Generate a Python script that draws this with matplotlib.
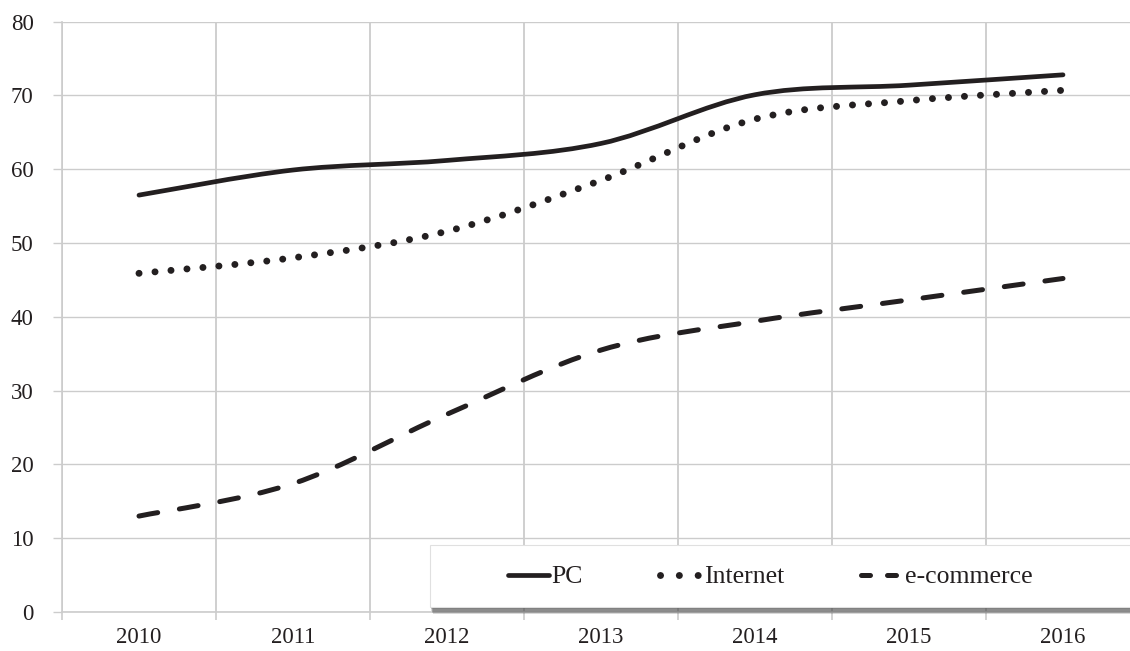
import matplotlib
matplotlib.use("Agg")
import matplotlib.pyplot as plt
import numpy as np
from matplotlib.path import Path
from matplotlib.patches import PathPatch, Rectangle
from matplotlib.lines import Line2D
import matplotlib.patheffects as pe

plt.rcParams['font.family'] = ['Liberation Serif', 'DejaVu Serif']

years = ['2010', '2011', '2012', '2013', '2014', '2015', '2016']
pc = [56.5, 59.9, 61.2, 63.5, 70.1, 71.4, 72.8]
internet = [45.9, 48.0, 51.6, 58.5, 66.8, 69.3, 70.7]
ecommerce = [13.0, 17.4, 26.8, 35.5, 39.4, 42.3, 45.2]

ink = '#231f20'
grid_c = '#cccccc'


def smooth_path(vals):
    # excel style smoothed line: bezier segments through the points
    p = np.column_stack([np.arange(len(vals)), vals]).astype(float)
    n = len(p)
    verts = [p[0]]
    codes = [Path.MOVETO]
    for i in range(n - 1):
        p0 = p[i - 1] if i > 0 else p[i]
        p3 = p[i + 2] if i + 2 < n else p[i + 1]
        c1 = p[i] + (p[i + 1] - p0) / 6
        c2 = p[i + 1] - (p3 - p[i]) / 6
        verts += [c1, c2, p[i + 1]]
        codes += [Path.CURVE4] * 3
    return Path(verts, codes)


W, H = 1130, 651
fig = plt.figure(figsize=(W / 100, H / 100), dpi=100)
ax = fig.add_axes([62 / W, (H - 612) / H, (1140 - 62) / W, (612 - 21.7) / H])

ax.set_xlim(-0.5, len(years) - 0.5)
ax.set_ylim(0, 80)

styles = [
    (pc, 3.4, '-'),
    (internet, 5.0, (0, (0.01, 2.3))),
    (ecommerce, 3.6, (0, (3.8, 4.4))),
]
for vals, lw, ls in styles:
    patch = PathPatch(smooth_path(vals), fill=False, edgecolor=ink, lw=lw,
                      linestyle=ls, capstyle='round', joinstyle='round', zorder=3)
    ax.add_patch(patch)

ax.set_xticks(range(len(years)))
ax.set_xticklabels(years)
ax.set_xticks(np.arange(-0.5, len(years), 1), minor=True)
ax.set_yticks(range(0, 81, 10))

ax.tick_params(axis='x', which='major', length=0, pad=11, labelsize=16.5, labelcolor=ink)
ax.tick_params(axis='x', which='minor', length=5.5, width=1.2, color=grid_c)
ax.tick_params(axis='y', length=6.5, width=1, color=grid_c, pad=14, labelsize=16.5, labelcolor=ink)

ax.grid(axis='y', which='major', color=grid_c, lw=1)
ax.grid(axis='x', which='minor', color=grid_c, lw=1.3)
ax.set_axisbelow(True)

for s in ['top', 'right']:
    ax.spines[s].set_visible(False)
for s in ['left', 'bottom']:
    ax.spines[s].set_color(grid_c)
    ax.spines[s].set_linewidth(1.2)

# legend box with a soft shadow, darker close to the box
box = Rectangle((430 / W, (H - 607) / H), 705 / W, 62 / H,
                transform=fig.transFigure, facecolor='white', edgecolor='#e0e0e0',
                lw=0.8, clip_on=False, zorder=5)
shadows = [pe.SimplePatchShadow(offset=(0.35 * k, -0.85 * k), shadow_rgbFace='0.25', alpha=0.2)
           for k in range(6, 0, -1)]
box.set_path_effects(shadows + [pe.Normal()])
ax.add_patch(box)

handles = [
    Line2D([], [], color=ink, lw=3.4, solid_capstyle='round'),
    Line2D([], [], color=ink, lw=5.0, linestyle=(0, (0.01, 2.7)), dash_capstyle='round'),
    Line2D([], [], color=ink, lw=3.6, linestyle=(0, (1.8, 3.4)), dash_capstyle='round'),
]
leg = ax.legend(handles, ['PC', 'Internet', 'e-commerce'], ncol=3, frameon=False,
                loc='center left', bbox_to_anchor=(508 / W, (H - 577) / H),
                bbox_transform=fig.transFigure, borderpad=0, borderaxespad=0,
                handlelength=1.6, handletextpad=0.1, columnspacing=3.0,
                prop={'size': 18.5})
for t in leg.get_texts():
    t.set_color(ink)
leg.set_zorder(6)

fig.savefig('out.png', dpi=100)
